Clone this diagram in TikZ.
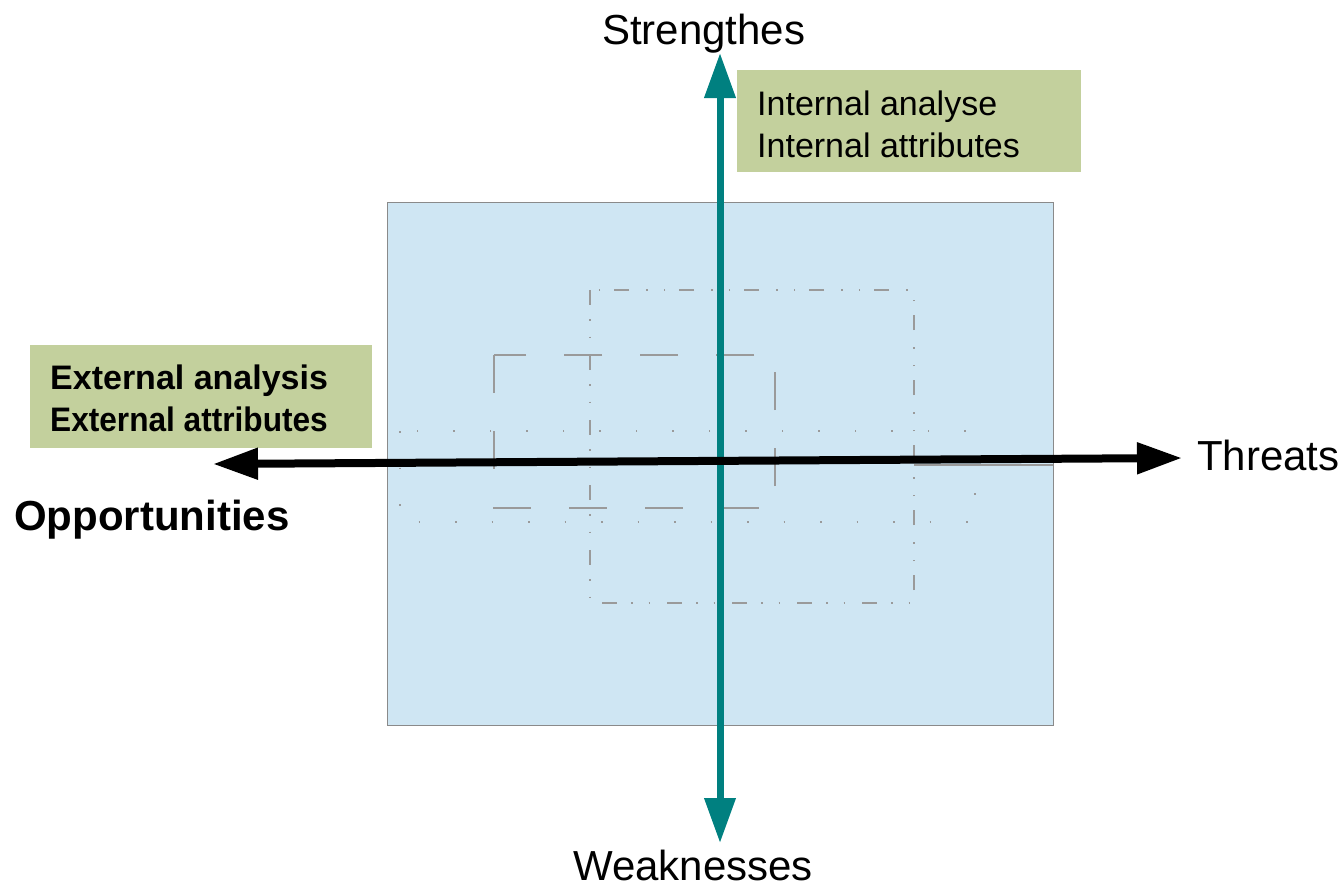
\documentclass[tikz,border=0pt]{standalone}
\usepackage{fontspec}
\setmainfont{Liberation Sans}
\usetikzlibrary{arrows.meta}
\definecolor{bluebg}{HTML}{CFE6F3}
\definecolor{blueedge}{HTML}{8A8A8A}
\definecolor{greenbg}{HTML}{C3D09D}
\definecolor{tealc}{HTML}{008080}
\definecolor{dashgray}{HTML}{9A9A9A}
\tikzset{
  bluebox/.style={draw=blueedge, line width=1.2pt, fill=bluebg},
  greenbox/.style={draw=none, fill=greenbg, inner sep=0pt, anchor=north west},
  guidebox/.style={draw=dashgray, line width=1.5pt},
  dashdotdot/.style={guidebox, dash pattern=on 15pt off 14pt on 1.5pt off 16pt on 1.5pt off 17pt},
  longdash/.style={guidebox, dash pattern=on 38pt off 38pt},
  dotline/.style={guidebox, dash pattern=on 1.5pt off 35pt},
  tealaxis/.style={draw=tealc, line width=7pt, {Triangle[length=45pt,width=30pt]}-{Triangle[length=45pt,width=30pt]}},
  blackaxis/.style={draw=black, line width=8pt, {Triangle[length=45pt,width=30pt]}-{Triangle[length=45pt,width=30pt]}},
  biglabel/.style={anchor=base west, inner sep=0pt, font=\fontsize{42}{50}\selectfont},
  boxtext/.style={anchor=base west, inner sep=0pt, font=\fontsize{34}{42}\selectfont},
}
\begin{document}
\begin{tikzpicture}[x=1pt,y=-1pt]
\useasboundingbox (0,0) rectangle (1344,886);
% background quadrant field
\node[bluebox, anchor=north west, minimum width=666pt, minimum height=523pt, inner sep=0pt] (field) at (387,202) {};
% guide rectangles
\draw[dotline] (400,431) rectangle (975,522);
\draw[longdash] (494,355) rectangle (775,508);
\draw[dashdotdot] (590,290) rectangle (914,603);
\draw[dashgray, line width=1.5pt] (914,465) -- (1053,465);
% green info boxes
\node[greenbox, minimum width=344pt, minimum height=102pt] (intbox) at (737,70) {};
\node[greenbox, minimum width=342pt, minimum height=103pt] (extbox) at (30,345) {};
\node[boxtext] (int1) at (757,115) {Internal analyse};
\node[boxtext] (int2) at (757,157) {Internal attributes};
\node[boxtext, font=\fontsize{34}{42}\selectfont\bfseries] (ext1) at (50,389) {External analysis};
\node[boxtext, font=\fontsize{34}{42}\selectfont\bfseries] (ext2) at (50,431) {\scalebox{0.93}[1]{External attributes}};
% axis end points
\coordinate (stip) at (720,53);
\coordinate (wtip) at (720,843);
\coordinate (otip) at (213,464);
\coordinate (ttip) at (1182,458);
% axes
\draw[tealaxis] (wtip) -- (stip);
\draw[blackaxis] (otip) -- (ttip);
% axis labels
\node[biglabel] (strength) at (602,44) {Strengthes};
\node[biglabel] (weak) at (573,880) {Weaknesses};
\node[biglabel] (threat) at (1197,470) {Threats};
\node[biglabel, font=\fontsize{42}{50}\selectfont\bfseries] (opp) at (14,530) {Opportunities};
\end{tikzpicture}
\end{document}
